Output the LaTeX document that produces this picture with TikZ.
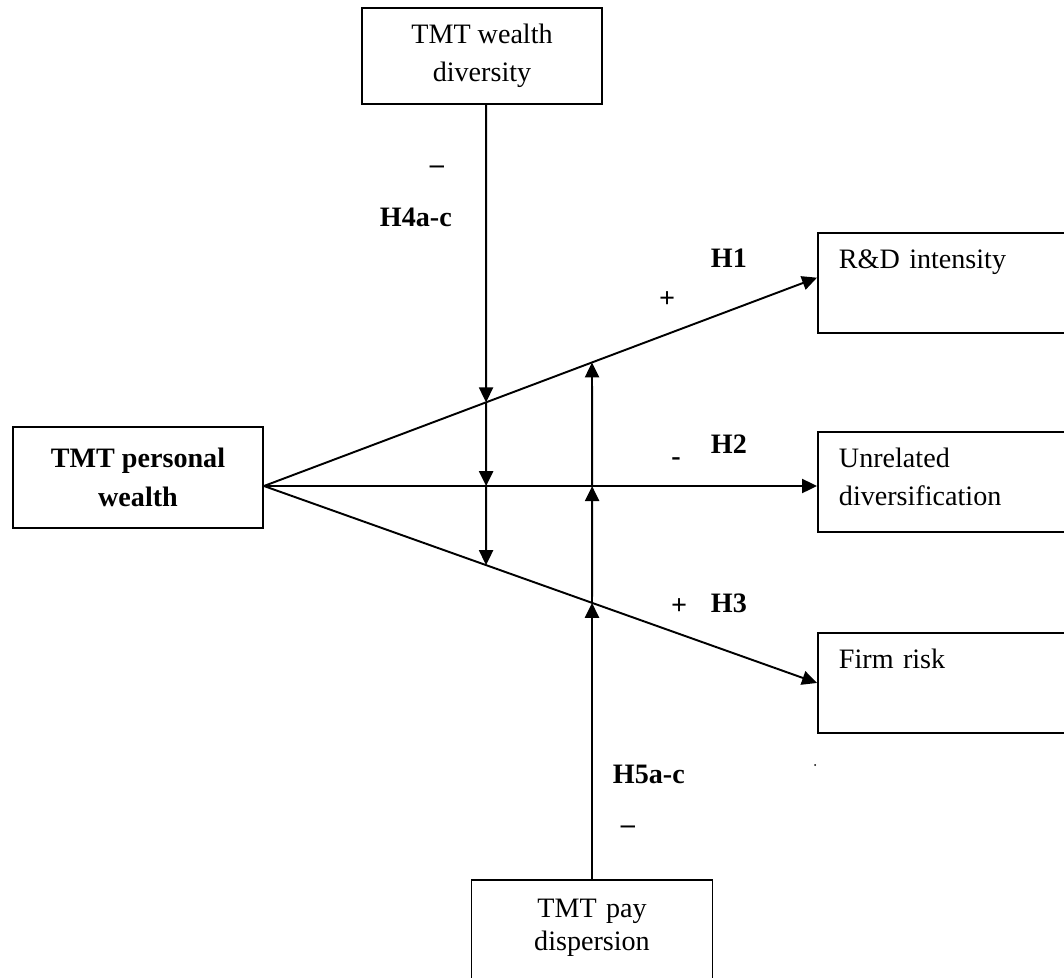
\documentclass[tikz,border=0pt]{standalone}
\usepackage{fontspec}
\setmainfont{Liberation Serif}
\usetikzlibrary{arrows.meta,calc}

\begin{document}
\begin{tikzpicture}[x=0.02cm, y=-0.02cm, line width=1.1pt,
    >={Triangle[length=8.5pt,width=8pt]},
    box/.style={draw, line width=1.1pt, font=\fontsize{16}{21.5}\selectfont, align=center},
    outbox/.style={draw, line width=1.1pt, font=\fontsize{16}{21.5}\selectfont, anchor=north west,
        text width=5.2cm, align=left, inner xsep=0.42cm, inner ysep=0pt,
        text height=0.72cm, text depth=1.28cm},
    hyp/.style={font=\fontsize{16}{19}\selectfont\bfseries}]
\useasboundingbox (0,0) rectangle (1064,977);

% Moderators
\node[box, minimum width=4.8cm, minimum height=1.92cm] (wd) at (482,56) {TMT wealth\\diversity};
\node[box, anchor=north, text width=4.42cm, inner xsep=0.2cm, inner ysep=0pt,
      text height=0.76cm, text depth=1.4cm] (pd) at (592,879) {TMT pay\\[-2.8pt]dispersion};

% Independent variable
\node[box, font=\fontsize{16}{21.5}\selectfont\bfseries, minimum width=5cm, minimum height=2.02cm] (pw) at (138,477.5) {TMT personal\\[1pt]wealth};
\coordinate (src) at ($(pw.east)+(0,8.5)$);

% Outcomes
\node[outbox] (rd) at (817,232) {R\&D intensity};
\node[outbox] (ud) at (817,431) {Unrelated\\diversification};
\node[outbox] (fr) at (817,632) {Firm risk};

% Main effects
\coordinate (e1) at ([yshift=3pt]rd.west);
\coordinate (e2) at (src -| ud.west);
\coordinate (e3) at (fr.west);
\draw[->] (src) -- (e1);
\draw[->] (src) -- (e2);
\draw[->] (src) -- (e3);

% Moderating arrows (wealth diversity, downward)
\coordinate (d0) at ([xshift=2.3pt]wd.south);
\coordinate (d9) at (d0 |- pd.south);
\coordinate (i1) at (intersection of d0--d9 and src--e1);
\coordinate (i2) at (intersection of d0--d9 and src--e2);
\coordinate (i3) at (intersection of d0--d9 and src--e3);
\draw[->] (d0) -- (i1);
\draw[->] (i1) -- (i2);
\draw[->] (i2) -- (i3);

% Moderating arrows (pay dispersion, upward)
\coordinate (u0) at (pd.north);
\coordinate (u9) at (u0 |- wd.north);
\coordinate (j1) at (intersection of u0--u9 and src--e1);
\coordinate (j2) at (intersection of u0--u9 and src--e2);
\coordinate (j3) at (intersection of u0--u9 and src--e3);
\draw[->] (u0) -- (j3);
\draw[->] (j3) -- (j2);
\draw[->] (j2) -- (j1);

% Hypothesis labels
\foreach \n/\x/\y/\t in {h1/710/267/H1, h2/710/453/H2, h3/710/612/H3, h4/379/226/H4a-c, h5/612/783/H5a-c}
    \node[hyp, anchor=base west, inner sep=0pt] (\n) at (\x,\y) {\t};

% Signs
\node[hyp] (s1) at (667,300) {+};
\node[hyp] (s2) at (676,462) {-};
\node[hyp] (s3) at (679,607) {+};
\node[hyp] (s4) at (437,170) {–};
\node[hyp] (s5) at (628,830) {–};

\fill (815,765) circle (1);
\end{tikzpicture}
\end{document}
